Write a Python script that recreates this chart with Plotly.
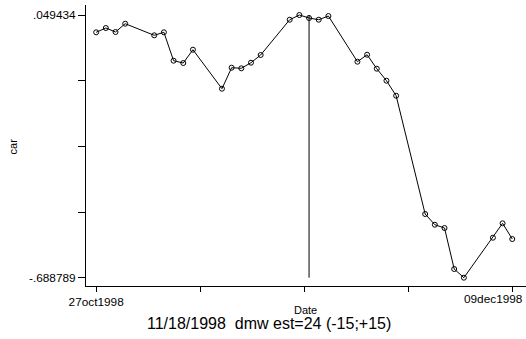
import pandas as pd
import plotly.graph_objects as go

dates = ["1998-10-27", "1998-10-28", "1998-10-29", "1998-10-30",
         "1998-11-02", "1998-11-03", "1998-11-04", "1998-11-05", "1998-11-06",
         "1998-11-09", "1998-11-10", "1998-11-11", "1998-11-12", "1998-11-13",
         "1998-11-16", "1998-11-17", "1998-11-18", "1998-11-19", "1998-11-20",
         "1998-11-23", "1998-11-24", "1998-11-25", "1998-11-26", "1998-11-27",
         "1998-11-30", "1998-12-01", "1998-12-02", "1998-12-03", "1998-12-04",
         "1998-12-07", "1998-12-08", "1998-12-09"]
car = [0.0008, 0.0129, 0.0017, 0.0250,
       -0.0076, 0.0008, -0.0790, -0.0855, -0.0481,
       -0.1577, -0.0987, -0.1004, -0.0846, -0.0630,
       0.0362, 0.049434, 0.0410, 0.0362, 0.0466,
       -0.0818, -0.0622, -0.1015, -0.1352, -0.1774,
       -0.5098, -0.5399, -0.5492, -0.6644, -0.688789,
       -0.5764, -0.5360, -0.5801]
event_date = "1998-11-18"
x_tick_labels = ["27oct1998", "", "", "", ""]
x_last_label = "09dec1998"
y_tick_labels = [".049434", "", "", "", "-.688789"]
title_text = "11/18/1998  dmw est=24 (-15;+15)"

ymin, ymax = min(car), max(car)
t0 = pd.Timestamp(dates[0])
t1 = pd.Timestamp(dates[-1])
xticks = [t0 + (t1 - t0) * i / 4 for i in range(5)]
yticks = [ymax - (ymax - ymin) * i / 4 for i in range(5)]
ystep = (ymax - ymin) / 262.7

font = "Liberation Sans, Arial, sans-serif"

fig = go.Figure()
fig.add_trace(go.Scatter(
    x=[event_date, event_date], y=[ymin, ymax], mode="lines",
    line=dict(color="black", width=1), hoverinfo="skip", showlegend=False))
fig.add_trace(go.Scatter(
    x=dates, y=car, mode="lines+markers",
    line=dict(color="black", width=1),
    marker=dict(symbol="circle-open", size=5, color="black",
                line=dict(width=1, color="black")),
    showlegend=False))

fig.update_layout(
    width=526, height=339,
    margin=dict(l=86, r=0, t=5, b=53, autoexpand=False),
    paper_bgcolor="white", plot_bgcolor="white",
    font=dict(family=font, size=11, color="black"),
    xaxis=dict(
        type="date", automargin=False,
        range=[t0 - pd.Timedelta(days=1.05), t1 + pd.Timedelta(days=1.42)],
        tickvals=xticks, ticktext=x_tick_labels,
        ticks="outside", ticklen=5, tickcolor="black", tickwidth=1,
        showline=True, linecolor="black", linewidth=1,
        showgrid=False, zeroline=False,
        tickfont=dict(family=font, size=11.8, color="black"),
    ),
    yaxis=dict(
        automargin=False,
        range=[ymin - 8.3 * ystep, ymax + 10 * ystep],
        tickvals=yticks, ticktext=y_tick_labels,
        ticks="outside", ticklen=7, tickcolor="black", tickwidth=1,
        showline=True, linecolor="black", linewidth=1,
        showgrid=False, zeroline=False,
        tickfont=dict(family=font, size=11.8, color="black"),
    ),
    annotations=[
        dict(text=x_last_label, xref="paper", yref="paper", x=(493.7 - 86) / 440,
             y=-(299 - 286) / 281, showarrow=False, xanchor="center", yanchor="middle",
             font=dict(family=font, size=11.8, color="black")),
        dict(text="car", xref="paper", yref="paper", x=-0.165, y=0.498,
             textangle=-90, showarrow=False, xanchor="center", yanchor="middle",
             font=dict(family=font, size=11, color="black")),
        dict(text="Date", xref="paper", yref="paper", x=0.498, y=-0.0854,
             showarrow=False, xanchor="center", yanchor="middle",
             font=dict(family=font, size=11, color="black")),
        dict(text=title_text, xref="paper", yref="paper", x=0.416, y=-0.135,
             showarrow=False, xanchor="center", yanchor="middle",
             font=dict(family=font, size=16, color="black")),
    ],
)

fig.write_html("out.html", config={"displayModeBar": False},
               post_script="document.body.style.margin='0';")
